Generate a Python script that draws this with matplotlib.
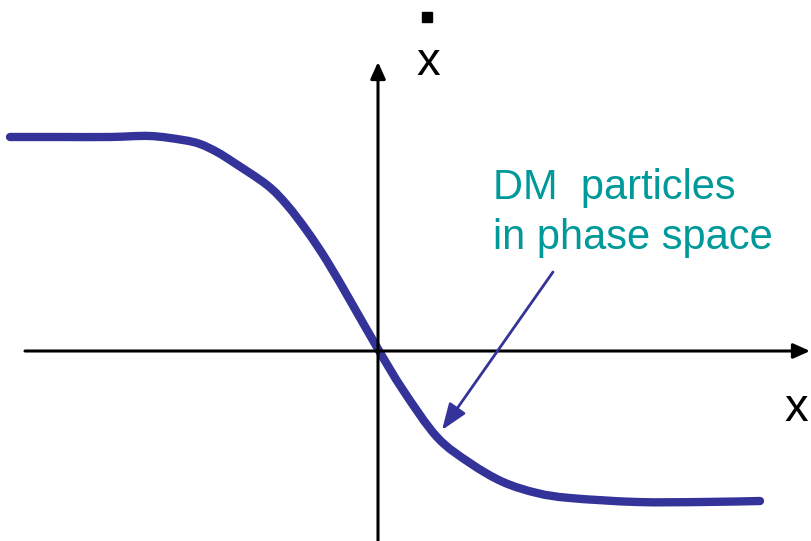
import numpy as np
import matplotlib.pyplot as plt
from matplotlib.path import Path
from matplotlib.patches import PathPatch

# curve (origin at the axes crossing, y up)
curve_x = [-368, -318, -268, -228, -195, -178, -161, -145, -111, -91, -71,
           -51, -27, 0, 25, 59, 92, 125, 159, 192, 259, 325, 382]
curve_y = [214, 214, 214, 215, 211, 207, 199, 189, 166, 146, 120,
           90, 49, 2, -39, -86, -112, -131, -142, -147, -151, -151, -150]

label_text = "DM  particles\nin phase space"
xdot_label = "x"
x_label = "x"

curve_color = "#333399"
text_color = "#009999"


def smooth_path(xs, ys):
    # Catmull-Rom through the points, written as cubic Bezier segments
    p = np.column_stack([xs, ys]).astype(float)
    p = np.vstack([p[0], p, p[-1]])
    verts = [p[1]]
    codes = [Path.MOVETO]
    for i in range(1, len(p) - 2):
        c1 = p[i] + (p[i + 1] - p[i - 1]) / 6
        c2 = p[i + 1] - (p[i + 2] - p[i]) / 6
        verts += [c1, c2, p[i + 1]]
        codes += [Path.CURVE4] * 3
    return Path(verts, codes)


fig = plt.figure(figsize=(8.11, 5.41), dpi=100)
ax = fig.add_axes([0, 0, 1, 1])
ax.set_xlim(-378, 433)
ax.set_ylim(-190, 351)
ax.axis("off")

# axes with arrows
ax.annotate("", xy=(432, 0), xytext=(-353, 0),
            arrowprops=dict(arrowstyle="-|>,head_length=1.0,head_width=0.45",
                            color="black", lw=2.2, shrinkA=0, shrinkB=0))
ax.annotate("", xy=(0, 289), xytext=(0, -190),
            arrowprops=dict(arrowstyle="-|>,head_length=1.0,head_width=0.45",
                            color="black", lw=2.2, shrinkA=0, shrinkB=0))

ax.add_patch(PathPatch(smooth_path(curve_x, curve_y), fill=False,
                       edgecolor=curve_color, lw=6, capstyle="round",
                       joinstyle="round"))

# axis labels
ax.text(50, 288, xdot_label, fontsize=34, family="Liberation Sans",
        ha="center", va="center")
ax.plot([49], [334], marker="s", ms=7, color="black")
ax.text(418, -58, x_label, fontsize=34, family="Liberation Sans",
        ha="center", va="center")

# annotation
ax.text(115, 183, label_text, fontsize=30, family="Liberation Sans",
        color=text_color, ha="left", va="top", linespacing=1.32)
ax.annotate("", xy=(64, -79), xytext=(175, 79),
            arrowprops=dict(arrowstyle="-|>,head_length=1.6,head_width=0.6",
                            color=curve_color, lw=2, shrinkA=0, shrinkB=0))

fig.savefig("out.png", dpi=100)
